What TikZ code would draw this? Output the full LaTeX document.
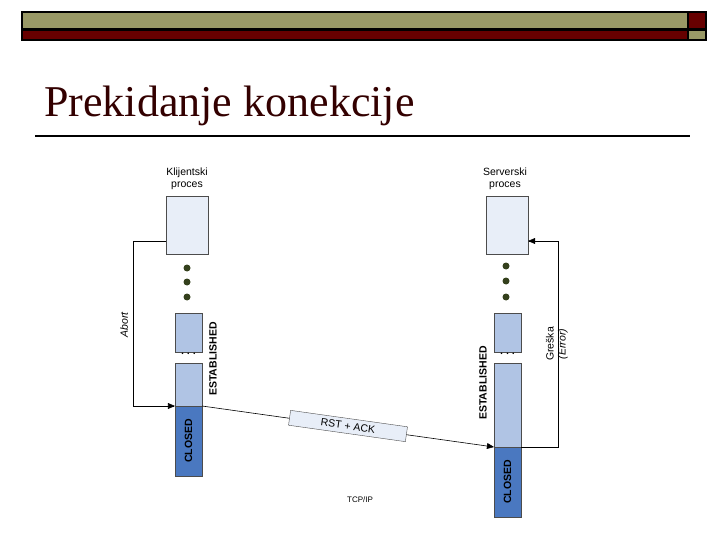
\documentclass[tikz,border=0pt]{standalone}
\usepackage{fontspec}
\setsansfont{Liberation Sans}
\setmainfont{Liberation Serif}
\usetikzlibrary{arrows}
\definecolor{olive}{HTML}{999966}
\definecolor{darkred}{HTML}{660000}
\definecolor{palebox}{HTML}{E8EEF8}
\definecolor{midbox}{HTML}{B0C4E4}
\definecolor{closedbox}{HTML}{4A78C0}
\definecolor{dotgreen}{HTML}{34401C}
\begin{document}
\begin{tikzpicture}[x=1pt,y=-1pt,>=triangle 45,font=\sffamily\fontsize{10.5}{12}\selectfont,semithick]
  \tikzstyle{proc}=[draw=black!70,fill=palebox,thin]
  \tikzstyle{state}=[draw=black!70,fill=midbox,thin]
  \tikzstyle{closed}=[draw=black!70,fill=closedbox,thin]
  \tikzstyle{dot}=[circle,fill=dotgreen,inner sep=0pt,minimum size=7pt]
  \tikzstyle{vlabel}=[rotate=90,font=\sffamily\bfseries\fontsize{10.5}{12}\selectfont]
  \useasboundingbox (0,0) rectangle (720,540);

  % header bars
  \draw[line width=2pt,fill=olive] (22,12) rectangle (688,29);
  \draw[line width=2pt,fill=darkred] (688,12) rectangle (706,29);
  \draw[line width=2pt,fill=darkred] (22,30) rectangle (688,40);
  \draw[line width=2pt,fill=olive] (688,30) rectangle (706,40);
  \node[anchor=base west,font=\fontsize{44}{44}\rmfamily,text=darkred!50!black,inner sep=0pt] (title) at (44,117) {Prekidanje konekcije};
  \draw[line width=1.2pt] (35,136) -- (690,136);

  % client
  \node[align=center] (cname) at (187,179) {Klijentski\\proces};
  \draw[proc] (166,196) rectangle (208,254);
  \coordinate (cproc) at (166,241);
  \foreach \y in {268,282,297} \node[dot] at (187,\y) {};
  \draw[state] (175,313) rectangle (202,352);
  \node[font=\bfseries] at (188.5,354) {. . .};
  \draw[state] (175,363) rectangle (202,406);
  \draw[closed] (175,406) rectangle (202,476);
  \node[vlabel] (cclosed) at (188.5,441) {CLOSED};
  \node[vlabel] (cest) at (213,359) {ESTABLISHED};
  \coordinate (cend) at (175,406);
  \coordinate (cstart) at (202,406);

  % server
  \node[align=center] (sname) at (505,179) {Serverski\\proces};
  \draw[proc] (486,196) rectangle (528,254);
  \coordinate (sproc) at (528,241);
  \foreach \y in {266,281,297} \node[dot] at (506,\y) {};
  \draw[state] (494,313) rectangle (521,352);
  \node[font=\bfseries] at (507.5,354) {. . .};
  \draw[state] (494,363) rectangle (521,447);
  \draw[closed] (494,447) rectangle (521,517);
  \node[vlabel] (sclosed) at (507.5,482) {CLOSED};
  \node[vlabel] (sest) at (483,383) {ESTABLISHED};
  \coordinate (send) at (494,447);
  \coordinate (sstart) at (521,447);

  % connectors
  \draw[->] (cproc) -- (133,241) -- (133,406) -- (cend);
  \node[rotate=90,font=\sffamily\itshape\fontsize{10.5}{12}\selectfont] (abort) at (124,325) {Abort};
  \draw[->] (sstart) -- (558,447) -- (558,241) -- (sproc);
  \node[rotate=90,align=center] (err) at (557,344) {Greška\\\textit{(Error)}};
  \draw[->] (cstart) -- (send);
  \node[draw=black!70,fill=palebox,thin,rotate=-8,minimum width=118pt,minimum height=15pt,inner sep=1pt] (rst) at (348,426) {RST + ACK};

  \node[font=\sffamily\fontsize{8}{9}\selectfont] (tcp) at (360,500) {TCP/IP};
\end{tikzpicture}
\end{document}
